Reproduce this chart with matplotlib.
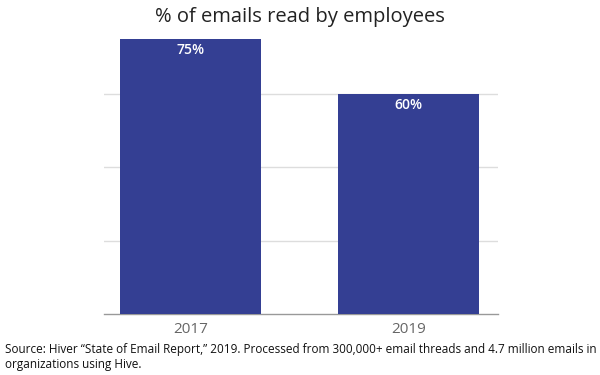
import matplotlib.pyplot as plt

plt.rcParams['font.family'] = ['Open Sans', 'DejaVu Sans']

# --- Data ---
years = ["2017", "2019"]
read_pct = [75, 60]
gridlines = [20, 40, 60]

bar_color = "#343f93"

fig = plt.figure(figsize=(6, 3.75), dpi=100)
ax = fig.add_axes([0.173, 0.1627, 0.657, 0.733])

x = range(len(years))
bars = ax.bar(x, read_pct, width=0.647, color=bar_color, zorder=3)

ax.set_xlim(-0.397, 1.41)
ax.set_ylim(0, 75)

# light horizontal gridlines, no y labels
for g in gridlines:
    ax.axhline(g, color="#dddddd", lw=1, zorder=1)
ax.set_yticks([])
for side in ["left", "right", "top"]:
    ax.spines[side].set_visible(False)
ax.spines["bottom"].set_color("#999999")
ax.spines["bottom"].set_linewidth(1)

ax.set_xticks(list(x))
ax.set_xticklabels(years, fontsize=11, color="#666666")
ax.tick_params(axis="x", length=0, pad=6)

for b, v in zip(bars, read_pct):
    ax.annotate(f"{v}%", (b.get_x() + b.get_width() / 2, v),
                xytext=(0, -8), textcoords="offset points",
                ha="center", va="center", color="white",
                fontsize=10, fontweight="semibold")

fig.text(0.5, 0.955, "% of emails read by employees", ha="center",
         va="center", fontsize=14.5, color="#222222")

fig.text(0.008, 0.069,
         "Source: Hiver \u201cState of Email Report,\u201d 2019. Processed from 300,000+ email threads and 4.7 million emails in",
         ha="left", va="center", fontsize=8.45, color="#111111")
fig.text(0.008, 0.029, "organizations using Hive.",
         ha="left", va="center", fontsize=8.45, color="#111111")

fig.savefig("out.png", dpi=100)
